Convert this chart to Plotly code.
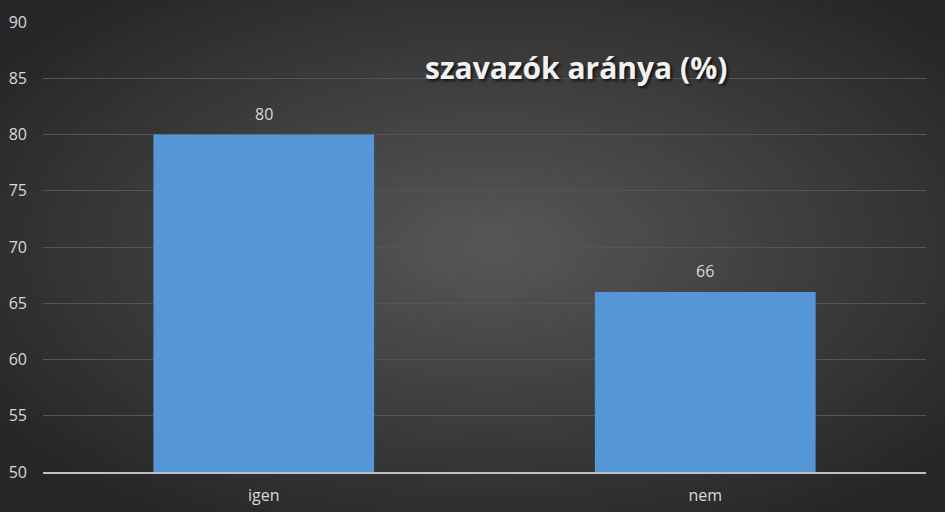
import plotly.graph_objects as go
import base64

categories = ["igen", "nem"]
values = [80, 66]
y_ticks = [50, 55, 60, 65, 70, 75, 80, 85, 90]
title_text = "szavazók aránya (%)"

svg = """<svg xmlns='http://www.w3.org/2000/svg' width='945' height='512'>
<defs><radialGradient id='g' cx='52%' cy='48%' r='62%'>
<stop offset='0%' stop-color='#575757'/><stop offset='100%' stop-color='#272727'/>
</radialGradient></defs>
<rect width='945' height='512' fill='url(#g)'/></svg>"""
bg = "data:image/svg+xml;base64," + base64.b64encode(svg.encode()).decode()

font = "Open Sans, Liberation Sans, sans-serif"

fig = go.Figure()
fig.add_trace(go.Bar(
    x=categories, y=values,
    marker=dict(color="#5597d6", line=dict(width=0)),
    cliponaxis=False, hoverinfo="x+y",
))

for c, v in zip(categories, values):
    fig.add_annotation(x=c, y=v, text=str(v), showarrow=False, yanchor="bottom",
                       yshift=8, font=dict(color="#d9d9d9", size=16, family=font))

fig.add_annotation(text="<b>" + title_text + "</b>", xref="paper", yref="paper",
                   x=0.604, y=0.898, yanchor="middle", showarrow=False,
                   font=dict(size=30, color="#f2f2f2", family=font,
                             shadow="2px 2px 3px rgba(0,0,0,0.7)"))

fig.update_layout(
    width=945, height=512, autosize=False,
    margin=dict(l=43, r=19, t=22, b=40),
    paper_bgcolor="#333333", plot_bgcolor="rgba(0,0,0,0)",
    bargap=0.5, showlegend=False,
    images=[dict(source=bg, xref="paper", yref="paper", x=-43/883, y=1+22/450,
                 sizex=945/883, sizey=512/450, xanchor="left", yanchor="top",
                 sizing="stretch", layer="below")],
    xaxis=dict(showgrid=False, ticks="", showline=True, linecolor="#bfbfbf", linewidth=2,
               ticklabelstandoff=8, automargin=False,
               tickfont=dict(color="#d9d9d9", size=16, family=font)),
    yaxis=dict(range=[50, 90], tickvals=y_ticks, showgrid=True, gridcolor="#555555",
               gridwidth=1, zeroline=False, showline=False, ticklabelstandoff=15,
               automargin=False,
               tickfont=dict(color="#d9d9d9", size=16, family=font)),
)

fig.write_html("out.html",
               config={"displayModeBar": False, "responsive": False},
               post_script="document.body.style.margin='0';document.body.style.overflow='hidden';")
